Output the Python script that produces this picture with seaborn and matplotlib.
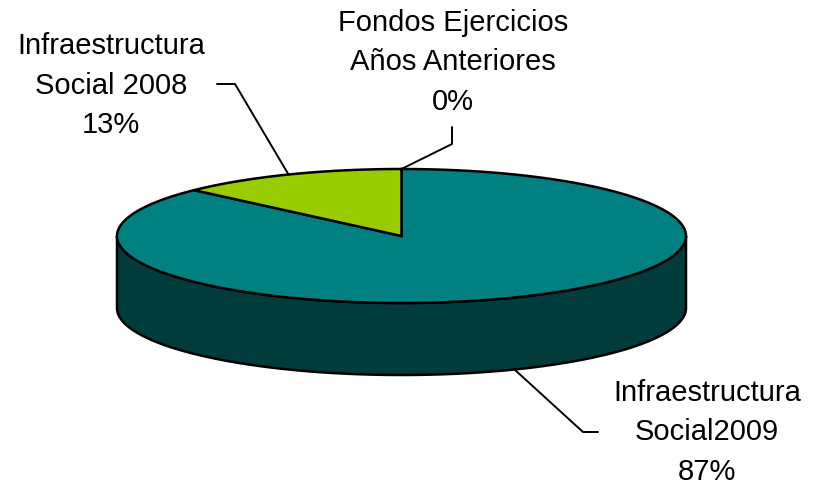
import numpy as np
import matplotlib
matplotlib.use('Agg')
import matplotlib.pyplot as plt
import seaborn as sns

# data (clockwise from 12 o'clock, as in the original Excel chart)
labels = ['Fondos Ejercicios\nAños Anteriores', 'Infraestructura\nSocial2009', 'Infraestructura\nSocial 2008']
values = [0.0, 87.0, 13.0]
colors = ['#9999FF', '#008080', '#99CC00']
side_color = '#003C3C'

sns.set_style('white')
plt.rcParams['font.family'] = ['Liberation Sans', 'DejaVu Sans']

# geometry of the tilted pie (pixel-like units)
cx, cy = 401.5, 236
rx, ry = 284.5, 67
depth = 72


def ell(theta_deg, dy=0):
    t = np.radians(theta_deg)
    return cx + rx * np.cos(t), cy - ry * np.sin(t) + dy


def put_label(ax, x, y_first, label, value, step=39.5):
    lines = label.split('\n') + [f'{value:.0f}%']
    for i, line in enumerate(lines):
        ax.text(x, y_first + i * step, line, ha='center', va='center',
                fontsize=21, color='black')


fig = plt.figure(figsize=(8.13, 4.83), dpi=100)
ax = fig.add_axes([0, 0, 1, 1])
ax.set_xlim(0, 813)
ax.set_ylim(483, 0)
ax.axis('off')

# front wall
th = np.linspace(180, 360, 200)
xs, ys = ell(th)
xb, yb = ell(th[::-1], depth)
ax.fill(np.r_[xs, xb], np.r_[ys, yb], color=side_color, ec='black', lw=1.8, zorder=1)

# top face slices
vals = np.array(values)
ends = 90 - 360 * np.cumsum(vals) / vals.sum()
starts = np.r_[90, ends[:-1]]
mids = (starts + ends) / 2
for s, e, c, v in zip(starts, ends, colors, vals):
    if v <= 0:
        continue
    th = np.linspace(s, e, 300)
    x, y = ell(th)
    ax.fill(np.r_[cx, x, cx], np.r_[cy, y, cy], color=c, ec='black', lw=1.8,
            joinstyle='miter', zorder=2)

# labels with leader lines
# Fondos (0%)
x0, y0 = ell(mids[0])
ax.plot([x0, 452, 452], [y0, 144, 127], color='black', lw=1.4, zorder=3)
put_label(ax, 453, 23, labels[0], values[0])

# Social 2009 (87%)
x1, y1 = ell(mids[1], depth)
ax.plot([x1, 583, 598], [y1, 432, 432], color='black', lw=1.4, zorder=3)
put_label(ax, 707, 393, labels[1], values[1])

# Social 2008 (13%)
x2, y2 = ell(mids[2])
ax.plot([x2, 235, 217], [y2, 84, 84], color='black', lw=1.4, zorder=3)
put_label(ax, 111, 46, labels[2], values[2])

fig.savefig('out.png', dpi=100, facecolor='white')
